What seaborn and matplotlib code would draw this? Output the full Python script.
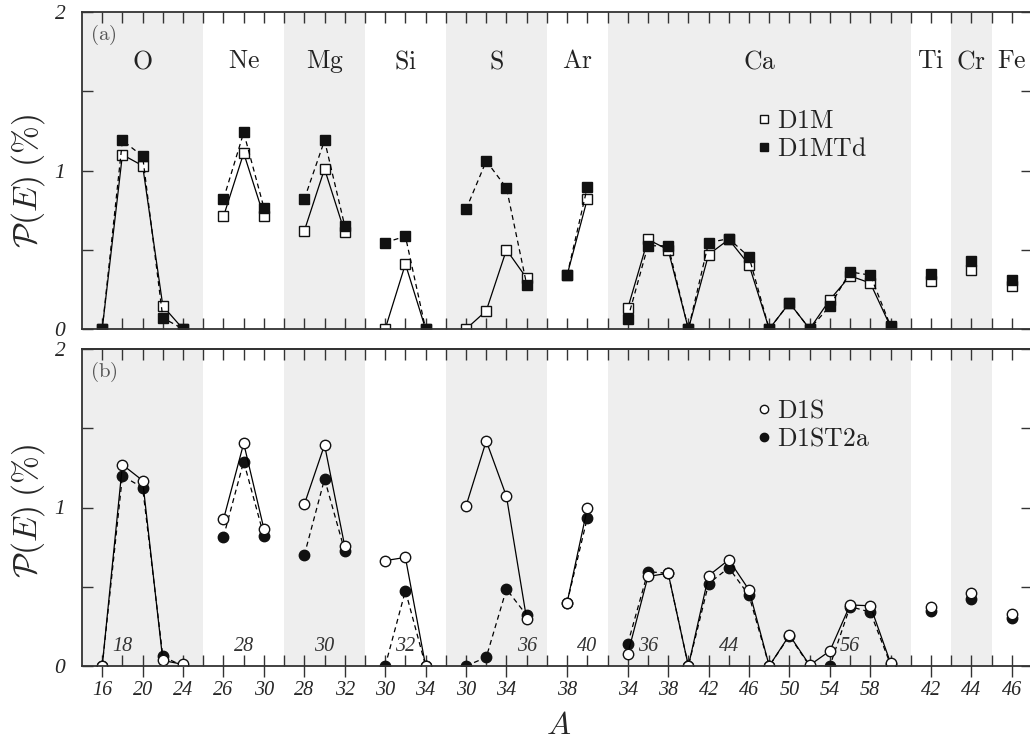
import numpy as np
import pandas as pd
import matplotlib.pyplot as plt
from matplotlib.lines import Line2D
import seaborn as sns

sns.set_style("ticks")
plt.rcParams["mathtext.fontset"] = "cm"
plt.rcParams["font.family"] = ["Liberation Serif", "DejaVu Serif"]

# --- data ---
elements = ["O", "Ne", "Mg", "Si", "S", "Ar", "Ca", "Ti", "Cr", "Fe"]
masses = [
    [16, 18, 20, 22, 24],
    [26, 28, 30],
    [28, 30, 32],
    [30, 32, 34],
    [30, 32, 34, 36],
    [38, 40],
    [34, 36, 38, 40, 42, 44, 46, 48, 50, 52, 54, 56, 58, 60],
    [42],
    [44],
    [46],
]

# panel (a)
d1m = [0.0, 1.10, 1.03, 0.145, 0.0,
       0.71, 1.11, 0.71,
       0.62, 1.01, 0.61,
       0.0, 0.41, 0.0,
       0.0, 0.115, 0.50, 0.32,
       0.34, 0.82,
       0.13, 0.565, 0.50, 0.0, 0.47, 0.565, 0.405, 0.0, 0.165, 0.0, 0.185, 0.335, 0.29, 0.015,
       0.305, 0.375, 0.27]
d1mtd = [0.0, 1.19, 1.09, 0.07, 0.0,
         0.82, 1.24, 0.765,
         0.82, 1.19, 0.65,
         0.545, 0.585, 0.0,
         0.755, 1.06, 0.89, 0.28,
         0.34, 0.895,
         0.065, 0.525, 0.525, 0.0, 0.545, 0.57, 0.455, 0.0, 0.165, 0.0, 0.145, 0.36, 0.34, 0.02,
         0.345, 0.43, 0.31]

# panel (b)
d1s = [0.0, 1.27, 1.17, 0.035, 0.01,
       0.925, 1.405, 0.865,
       1.02, 1.395, 0.755,
       0.665, 0.685, 0.0,
       1.01, 1.42, 1.07, 0.295,
       0.40, 0.995,
       0.075, 0.565, 0.585, 0.0, 0.57, 0.67, 0.48, 0.0, 0.195, 0.005, 0.095, 0.385, 0.38, 0.02,
       0.375, 0.46, 0.33]
d1st2a = [0.0, 1.20, 1.125, 0.06, 0.0,
          0.815, 1.29, 0.82,
          0.70, 1.18, 0.725,
          0.0, 0.475, 0.0,
          0.0, 0.055, 0.485, 0.32,
          0.40, 0.935,
          0.14, 0.595, 0.585, 0.0, 0.52, 0.62, 0.445, 0.0, 0.19, 0.0, 0.0, 0.375, 0.34, 0.01,
          0.345, 0.42, 0.305]

# most probable isotopes written in panel (b)
annot_elem = ["O", "Ne", "Mg", "Si", "S", "Ar", "Ca", "Ca", "Ca"]
annot_mass = [18, 28, 30, 32, 36, 40, 36, 44, 56]

# --- layout of the A axis: each element gets len(masses)+1 slots ---
pos, grp, mass_all = [], [], []
bounds = []
start = -1
for el, ms in zip(elements, masses):
    for k, m in enumerate(ms):
        pos.append(start + 1 + k)
        grp.append(el)
        mass_all.append(m)
    end = start + len(ms) + 1
    bounds.append((start, end))
    start = end

df = pd.DataFrame({"pos": pos, "group": grp, "mass": mass_all,
                   "D1M": d1m, "D1MTd": d1mtd, "D1S": d1s, "D1ST2a": d1st2a})

major_pos = [p for p, el in zip(pos, grp) if (p - bounds[elements.index(el)][0] - 1) % 2 == 0]
major_lab = [str(m) for p, m in zip(pos, mass_all) if p in major_pos]

W, H = 1030, 742
fig = plt.figure(figsize=(W / 100, H / 100), dpi=100)
ax1 = fig.add_axes([82 / W, 1 - 329 / H, 950 / W, 317 / H])
ax2 = fig.add_axes([82 / W, 1 - 666 / H, 950 / W, 317 / H])

spine_col = "#333333"
tick_font = dict(family="Liberation Serif", style="italic")

for ax in (ax1, ax2):
    for i, (b0, b1) in enumerate(bounds):
        if i % 2 == 0:
            ax.axvspan(b0, b1, color="#eeeeee", lw=0, zorder=0)
    ax.set_xlim(-1, start)
    ax.set_ylim(0, 2)
    for s in ax.spines.values():
        s.set_color(spine_col)
        s.set_linewidth(1.3)
    ax.set_yticks([0, 1, 2])
    ax.set_yticklabels(["0", "1", "2"], fontsize=15.5, **tick_font)
    ax.set_yticks([0.5, 1.5], minor=True)
    ax.tick_params(axis="y", which="both", direction="in", left=True, right=True,
                   length=8, width=1, color=spine_col, pad=12)

# panel (a) x ticks: all inward, no labels
ax1.set_xticks(range(0, start))
ax1.set_xticklabels([])
ax1.tick_params(axis="x", which="both", direction="in", top=True, bottom=True,
                length=8, width=1, color=spine_col)

# panel (b): labelled ticks cross the axis, top ticks on a secondary axis
ax2.set_xticks(major_pos)
ax2.set_xticklabels(major_lab, fontsize=14.5, **tick_font)
ax2.set_xticks([p for p in range(0, start) if p not in major_pos], minor=True)
ax2.tick_params(axis="x", which="major", direction="inout", top=False, bottom=True,
                length=16, width=1, color=spine_col, pad=3)
ax2.tick_params(axis="x", which="minor", direction="in", top=False, bottom=True,
                length=8, width=1, color=spine_col)
sec = ax2.secondary_xaxis("top")
sec.set_xticks(range(0, start))
sec.set_xticklabels([])
sec.tick_params(axis="x", direction="in", length=8, width=1, color=spine_col)
sec.spines["top"].set_color(spine_col)
sec.spines["top"].set_linewidth(1.3)

# --- data lines ---
def draw(ax, col, marker, filled, dashed, ms):
    sns.lineplot(data=df, x="pos", y=col, units="group", estimator=None, ax=ax,
                 color="black", linewidth=0.9,
                 linestyle=(0, (4, 3)) if dashed else "-",
                 marker=marker, markersize=ms,
                 markerfacecolor="#111111" if filled else "white",
                 markeredgecolor="#111111", markeredgewidth=1.0, legend=False)

draw(ax1, "D1M", "s", False, False, 7.3)
draw(ax1, "D1MTd", "s", True, True, 7.3)
draw(ax2, "D1ST2a", "o", True, True, 7.5)
draw(ax2, "D1S", "o", False, False, 7.5)

for ax in (ax1, ax2):
    ax.set_xlabel("")
    ax.set_ylabel(r"$\mathcal{P}(E)\;(\%)$", fontsize=24, va="center")

ax1.yaxis.set_label_coords(-0.057, 0.467)
ax2.yaxis.set_label_coords(-0.057, 0.489)

# element names
for el, (b0, b1) in zip(elements, bounds):
    ax1.text((b0 + b1) / 2, 1.685, r"$\mathrm{%s}$" % el, ha="center", va="center",
             fontsize=18.5, color="#222222")

ax1.text(0.008, 0.965, r"$\mathrm{(a)}$", transform=ax1.transAxes, ha="left", va="top",
         fontsize=15, color="#555555")
ax2.text(0.008, 0.965, r"$\mathrm{(b)}$", transform=ax2.transAxes, ha="left", va="top",
         fontsize=15, color="#555555")

for el, m in zip(annot_elem, annot_mass):
    p = df[(df["group"] == el) & (df["mass"] == m)]["pos"].iloc[0]
    ax2.text(p, 0.125, str(m), ha="center", va="center", fontsize=14.5,
             color="#333333", **tick_font)

# legends
def legend(ax, labels, marker, y):
    handles = [Line2D([], [], linestyle="none", marker=marker, markersize=6,
                      markerfacecolor=fc, markeredgecolor="#111111", markeredgewidth=1.0)
               for fc in ("white", "#111111")]
    ax.legend(handles, [r"$\mathrm{%s}$" % l for l in labels], loc="upper left",
              bbox_to_anchor=(32.35, y), bbox_transform=ax.transData, frameon=False,
              fontsize=18.5, handlelength=0.6, handletextpad=0.2, labelspacing=0.2,
              borderpad=0, borderaxespad=0, labelcolor="#222222")

legend(ax1, ["D1M", "D1MTd"], "s", 1.38)
legend(ax2, ["D1S", "D1ST2a"], "o", 1.68)

ax2.set_xlabel(r"$A$", fontsize=23)
ax2.xaxis.set_label_coords(0.502, -0.192)
ax2.xaxis.label.set_va("center")

fig.savefig("out.png", dpi=100)
